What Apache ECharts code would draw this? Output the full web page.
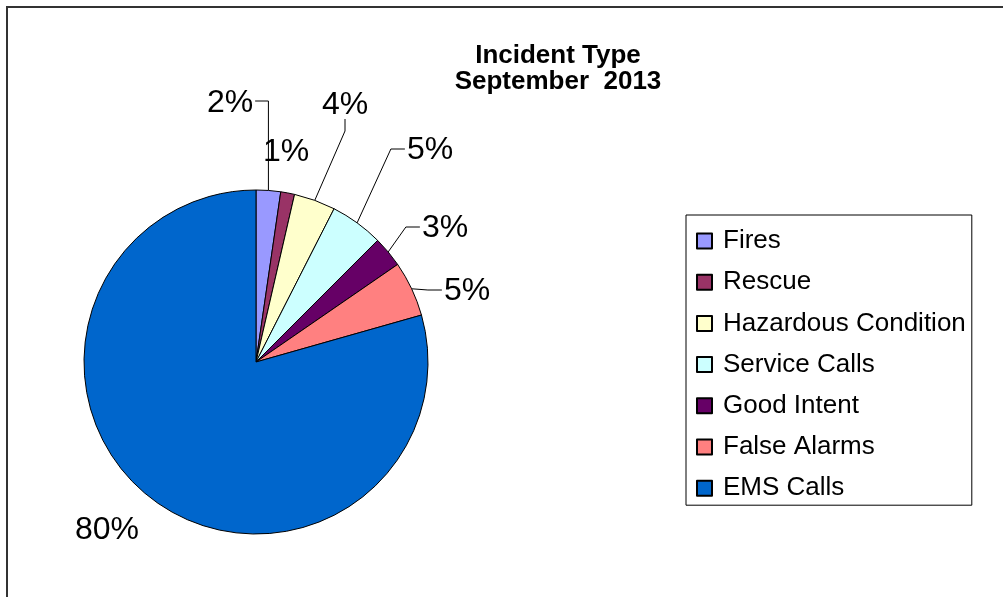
<!DOCTYPE html>
<html>
<head>
<meta charset="utf-8">
<script src="https://cdn.jsdelivr.net/npm/echarts@6/dist/echarts.min.js"></script>
<style>
html,body{margin:0;padding:0;background:#fff;}
#chart{width:1003px;height:597px;}
</style>
</head>
<body>
<div id="chart"></div>
<script>
// ---- data ----
var categories = ['Fires', 'Rescue', 'Hazardous Condition', 'Service Calls', 'Good Intent', 'False Alarms', 'EMS Calls'];
var values = [2.3, 1.3, 3.9, 5.0, 2.9, 5.2, 79.4];
var titleLines = ['Incident Type', 'September  2013'];

// ---- styles / label layout (not data) ----
var colors = ['#9999FF', '#993366', '#FFFFCC', '#CCFFFF', '#660066', '#FF8080', '#0066CC'];
// label centre positions and leader-line style per slice
var labelPlace = [
  { x: 230, y: 103, line: 'upLeft' },
  { x: 286, y: 152, line: 'none' },
  { x: 345, y: 105, line: 'vertical' },
  { x: 430, y: 150, line: 'right' },
  { x: 445, y: 228, line: 'right' },
  { x: 467, y: 291, line: 'right' },
  { x: 107, y: 530, line: 'none' }
];

var FONT = "'Liberation Sans', Arial, sans-serif";
var chart = echarts.init(document.getElementById('chart'));

var data = categories.map(function (c, i) {
  return { name: c, value: values[i], itemStyle: { color: colors[i] } };
});

chart.setOption({
  backgroundColor: '#fff',
  animation: false,
  title: {
    text: titleLines.join('\n'),
    left: 553,
    top: 38,
    textAlign: 'center',
    textStyle: { fontFamily: FONT, fontSize: 26, fontWeight: 'bold', color: '#000', lineHeight: 26 }
  },
  legend: {
    orient: 'vertical',
    left: 686,
    top: 215,
    padding: [13, 6, 4, 10],
    borderColor: '#000',
    borderWidth: 1,
    itemWidth: 15,
    itemHeight: 15,
    itemGap: 15.2,
    icon: 'rect',
    data: categories,
    textStyle: { fontFamily: FONT, fontSize: 26, color: '#000', padding: [0, 0, 0, 6] }
  },
  graphic: [{
    type: 'rect',
    shape: { x: 7, y: 7, width: 1200, height: 800 },
    style: { fill: 'none', stroke: '#333', lineWidth: 2 },
    silent: true
  }],
  series: [{
    type: 'pie',
    center: [256, 362],
    radius: 172,
    startAngle: 90,
    clockwise: true,
    percentPrecision: 0,
    avoidLabelOverlap: false,
    itemStyle: { borderColor: '#000', borderWidth: 1 },
    label: {
      show: true,
      formatter: '{d}%',
      fontFamily: FONT,
      fontSize: 32,
      color: '#000'
    },
    labelLine: {
      show: true,
      length: 10,
      length2: 10,
      lineStyle: { color: '#000', width: 1 }
    },
    labelLayout: function (p) {
      var lp = labelPlace[p.dataIndex];
      var w = p.labelRect.width, h = p.labelRect.height;
      var a = p.labelLinePoints ? p.labelLinePoints[0] : [lp.x, lp.y];
      var pts;
      if (lp.line === 'upLeft') {
        var rx = lp.x + w / 2 + 2;
        pts = [a, [a[0], lp.y - 2], [rx, lp.y - 2]];
      } else if (lp.line === 'vertical') {
        var by = lp.y + h / 2 - 2;
        pts = [a, [lp.x, by + 12], [lp.x, by]];
      } else if (lp.line === 'right') {
        var lx = lp.x - w / 2 - 2;
        pts = [a, [lx - 14, lp.y - 1], [lx, lp.y - 1]];
      } else {
        pts = [a, a, a];
      }
      return {
        x: lp.x,
        y: lp.y,
        align: 'center',
        verticalAlign: 'middle',
        labelLinePoints: pts
      };
    },
    emphasis: { disabled: true },
    data: data
  }]
});
</script>
</body>
</html>
